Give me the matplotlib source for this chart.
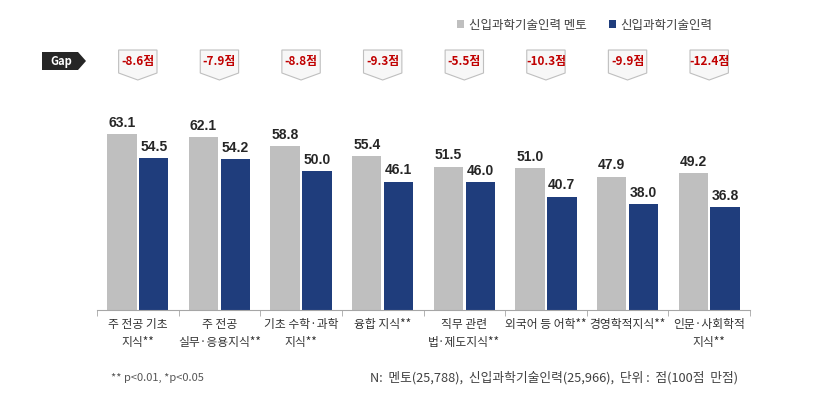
import numpy as np
import matplotlib
matplotlib.use('Agg')
import matplotlib.pyplot as plt
from matplotlib.patches import Polygon, Patch
from matplotlib.transforms import blended_transform_factory

plt.rcParams['font.family'] = ['Noto Sans CJK KR', 'DejaVu Sans']

categories = ['주 전공 기초\n지식**', '주 전공\n실무·응용지식**', '기초 수학·과학\n지식**', '융합 지식**',
              '직무 관련\n법·제도지식**', '외국어 등 어학**', '경영학적지식**', '인문·사회학적\n지식**']
mentor = [63.1, 62.1, 58.8, 55.4, 51.5, 51.0, 47.9, 49.2]
staff = [54.5, 54.2, 50.0, 46.1, 46.0, 40.7, 38.0, 36.8]
series_labels = ['신입과학기술인력 멘토', '신입과학기술인력']

gray = '#BFBFBF'
navy = '#1F3D7C'
W, H = 813, 413

fig = plt.figure(figsize=(W / 100, H / 100), dpi=100)
ax = fig.add_axes([97 / W, 1 - 310 / H, 653 / W, 195 / H])

x = np.arange(len(categories))
off, bw = 0.195, 0.36
b1 = ax.bar(x - off, mentor, bw, color=gray, zorder=2)
b2 = ax.bar(x + off, staff, bw, color=navy, zorder=2)

# 막대 위 값 표시
for bars, vals in ((b1, mentor), (b2, staff)):
    for bar, v in zip(bars, vals):
        ax.annotate(f'{v:.1f}', (bar.get_x() + bar.get_width() / 2, v), xytext=(0, 3),
                    textcoords='offset points', ha='center', va='bottom',
                    fontsize=10, fontweight='bold', family='Liberation Sans', color='#262626')

ax.set_xlim(-0.5, len(categories) - 0.5)
ax.set_ylim(0, 70)
for s in ('top', 'right', 'left'):
    ax.spines[s].set_visible(False)
ax.spines['bottom'].set_color('#A6A6A6')
ax.set_yticks([])
ax.set_xticks(x)
ax.set_xticklabels(categories, fontsize=8.5, color='#333333', linespacing=1.5)
ax.tick_params(axis='x', which='major', length=0, pad=6)
ax.set_xticks(np.arange(-0.5, len(categories)), minor=True)
ax.tick_params(axis='x', which='minor', length=4, color='#A6A6A6')

# Gap 표시
def fy(py):
    return 1 - py / H

tr = blended_transform_factory(ax.transData, fig.transFigure)
gaps = [s - m for m, s in zip(mentor, staff)]
hw = 0.235
for xi, g in zip(x, gaps):
    pts = [(xi - hw, fy(50)), (xi + hw, fy(50)), (xi + hw, fy(73)), (xi, fy(80)), (xi - hw, fy(73))]
    fig.patches.append(Polygon(pts, closed=True, transform=tr, facecolor='#F7F7F7',
                               edgecolor='#BFBFBF', lw=0.8))
    fig.text(xi, fy(62), f'{g:.1f}점', transform=tr, ha='center', va='center',
             fontsize=8.5, fontweight='bold', color='#C00000')

tag = [(42 / W, fy(52)), (78 / W, fy(52)), (86 / W, fy(61)), (78 / W, fy(70)), (42 / W, fy(70))]
fig.patches.append(Polygon(tag, closed=True, transform=fig.transFigure, facecolor='#262626', edgecolor='none'))
fig.text(61 / W, fy(61), 'Gap', ha='center', va='center', fontsize=8, fontweight='bold', color='white')

# 범례
handles = [Patch(facecolor=gray), Patch(facecolor=navy)]
fig.legend(handles, series_labels, loc='center right', bbox_to_anchor=(724 / W, fy(25)),
           ncol=2, frameon=False, fontsize=9, handlelength=0.55, handleheight=0.55,
           handletextpad=0.4, columnspacing=1.8, labelcolor='#404040')

# 주석
fig.text(111 / W, fy(378), '** p<0.01, *p<0.05', ha='left', va='center', fontsize=8, color='#555555')
fig.text(738 / W, fy(378), 'N:  멘토(25,788),  신입과학기술인력(25,966),  단위 :  점(100점  만점)',
         ha='right', va='center', fontsize=9.2, color='#404040')

fig.savefig('out.png', dpi=100, facecolor='white')
